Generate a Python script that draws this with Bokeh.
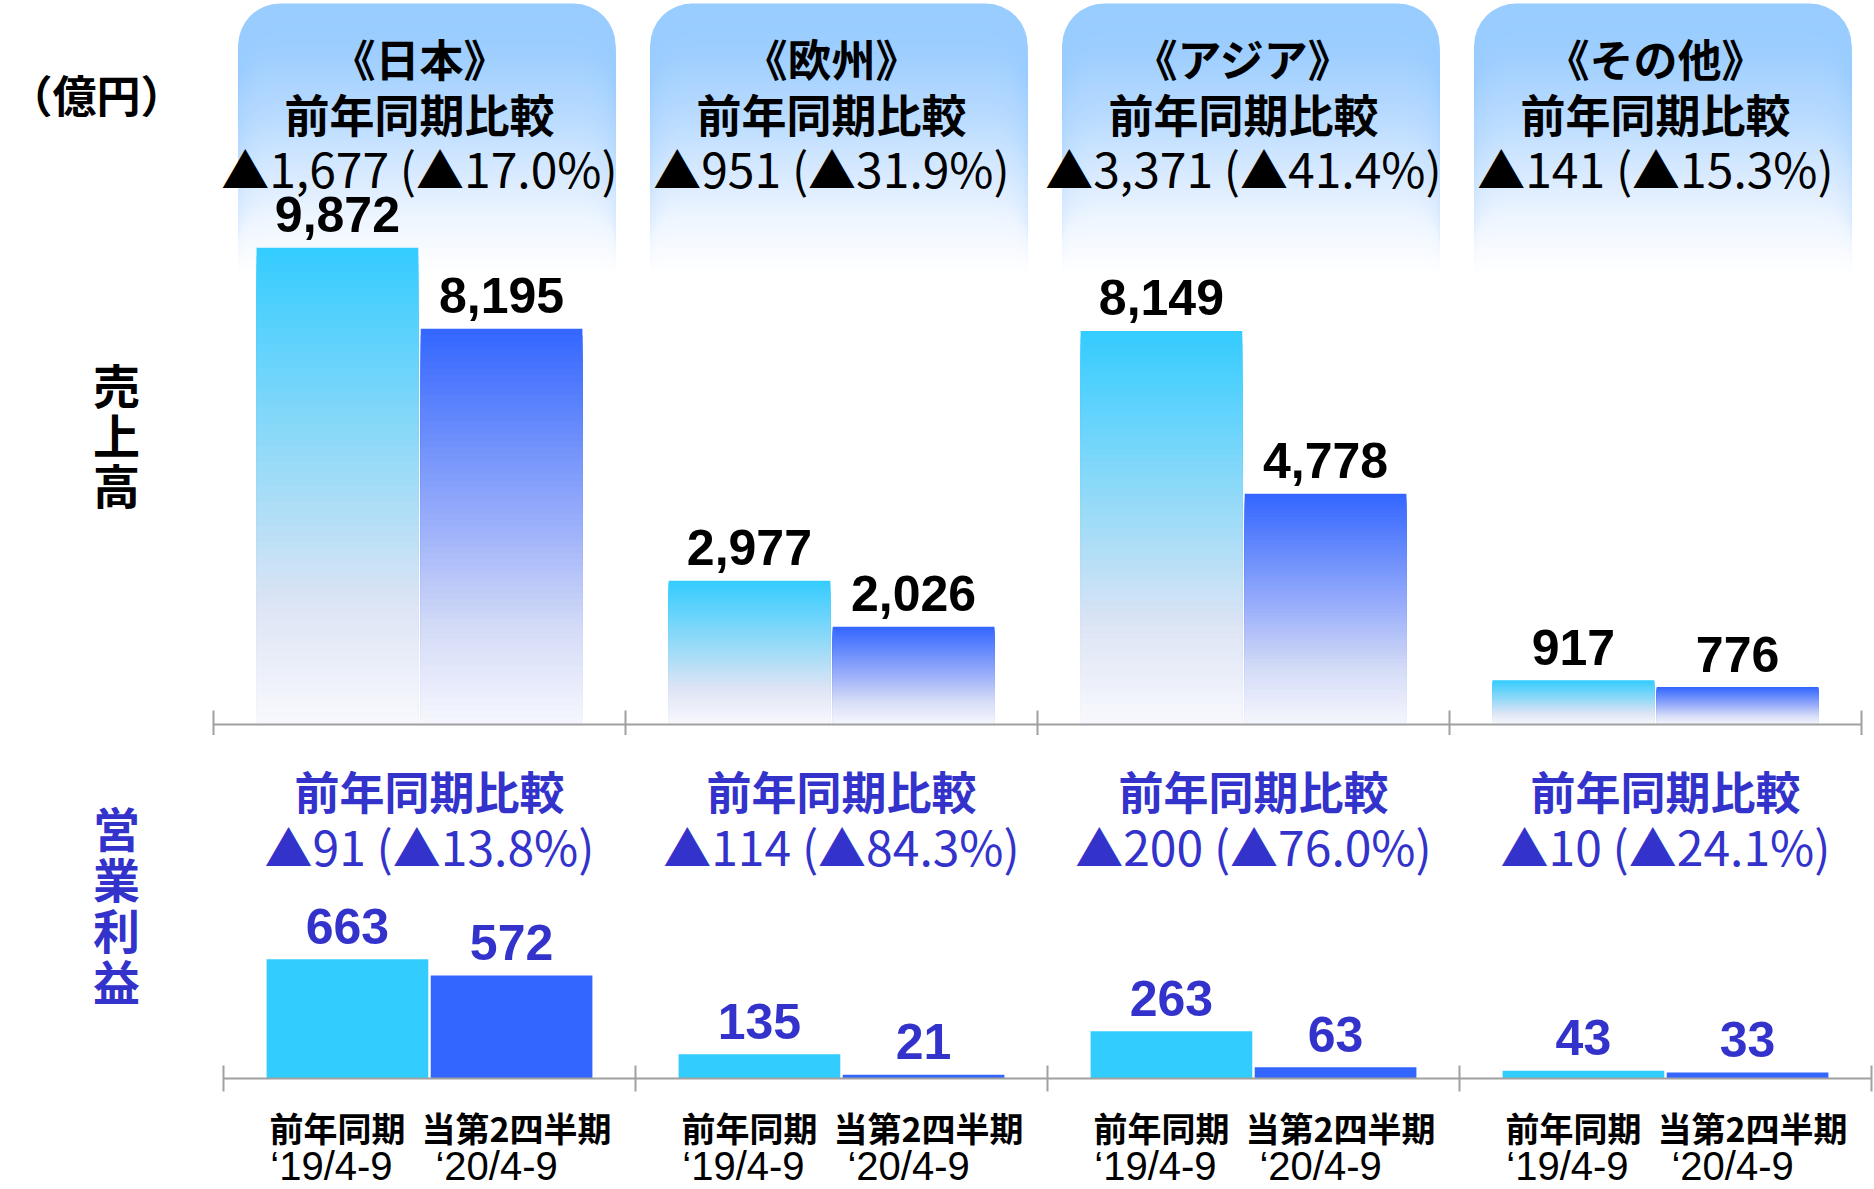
import numpy as np
from bokeh.plotting import figure
from bokeh.models import FactorRange, Range1d, ColumnDataSource
from bokeh.layouts import row, column
from bokeh.transform import dodge
from bokeh.core.properties import value
from bokeh.embed import file_html
from bokeh.resources import INLINE

# ---------------- data ----------------
regions = ["日本", "欧州", "アジア", "その他"]
region_titles = ["《日本》", "《欧州》", "《アジア》", "《その他》"]
periods = ["前年同期", "当第2四半期"]
period_dates = ["‘19/4-9", "‘20/4-9"]
sales_prev = [9872, 2977, 8149, 917]
sales_curr = [8195, 2026, 4778, 776]
op_prev = [663, 135, 263, 43]
op_curr = [572, 21, 63, 33]
sales_change = ["▲1,677 (▲17.0%)", "▲951 (▲31.9%)", "▲3,371 (▲41.4%)", "▲141 (▲15.3%)"]
op_change = ["▲91 (▲13.8%)", "▲114 (▲84.3%)", "▲200 (▲76.0%)", "▲10 (▲24.1%)"]
compare_label = "前年同期比較"
unit_label = "（億円）"
sales_label = "売上高"
op_label = "営業利益"

# ---------------- style ----------------
CJK = value("Noto Sans CJK JP")
NUM = value("Liberation Sans")
CYAN = "#33CCFF"
BLUE = "#3366FF"
TXT_BLUE = "#3333CC"
AXIS = "#A0A0A0"
cyan_stops = [(0.0, "#F8F9FD"), (0.25, "#DDE4F5"), (0.5, "#A3DCF7"), (1.0, CYAN)]
blue_stops = [(0.0, "#F6F7FD"), (0.25, "#D2DAF6"), (0.5, "#9CB0FA"), (1.0, BLUE)]
box_stops = [(0.0, "#FFFFFF"), (0.2, "#EFF6FF"), (0.4, "#D4E8FF"), (0.6, "#B7DAFF"),
             (0.85, "#9BCDFF"), (1.0, "#99CCFF")]

W, H = 1874, 1189
LEFT_W = 200
TOP_H, BOT_H = 735, 454
GP = 0.51                       # gap between region groups (in bar units)
UNIT = 1648 / (8 + 4 * GP)      # px per bar unit
PAD = GP / 2 + 13 / UNIT
BOT_SHIFT = 10 / UNIT           # operating-profit panel sits slightly right
BAR_W = 0.985


def hex2rgb(h):
    return np.array([int(h[i:i + 2], 16) for i in (1, 3, 5)], float)


def grad(stops, f):
    f = min(max(f, 0.0), 1.0)
    for (p0, c0), (p1, c1) in zip(stops[:-1], stops[1:]):
        if f <= p1:
            t = (f - p0) / (p1 - p0) if p1 > p0 else 0.0
            c = hex2rgb(c0) * (1 - t) + hex2rgb(c1) * t
            return "#%02x%02x%02x" % tuple(int(round(v)) for v in c)
    return stops[-1][1]


def factor_range():
    return FactorRange(factors=[(r, p) for r in regions for p in periods],
                       group_padding=GP, factor_padding=0.0,
                       range_padding=PAD, range_padding_units="absolute")


group_centers = [i * (2 + GP) + 1 for i in range(len(regions))]
bounds = [i * (2 + GP) - GP / 2 for i in range(len(regions) + 1)]


def base_fig(width, height, x_range, y_range):
    p = figure(width=width, height=height, x_range=x_range, y_range=y_range,
               output_backend="svg", toolbar_location=None,
               x_axis_location=None, y_axis_location=None,
               min_border=0, min_border_left=0, min_border_right=0,
               min_border_top=0, min_border_bottom=0)
    p.outline_line_color = None
    p.grid.visible = False
    p.background_fill_color = "white"
    p.border_fill_color = "white"
    return p


def draw_axis(p, size, shift=0.0):
    xs = [b + shift for b in bounds]
    p.segment(x0=[xs[0]], x1=[xs[-1]], y0=[0], y1=[0], line_color=AXIS, line_width=2)
    p.scatter(x=xs, y=[0] * len(xs), marker="dash", angle=np.pi / 2,
              size=size, line_color=AXIS, line_width=2)


# ---------------- top: sales ----------------
S1 = 0.0483     # px per 億円
AX1 = 724       # axis px from figure top


def y1(px):
    return (AX1 - px) / S1


p1 = base_fig(W - LEFT_W, TOP_H, factor_range(), Range1d(y1(TOP_H), y1(0)))

# header boxes (vertical gradient via stacked rounded quads)
NBOX = 70
box_top, box_bot = y1(3), y1(275)
BOX_HALF, BOX_SHIFT = 1.15, 0.045
bl, br, bt, bc = [], [], [], []
for k in range(NBOX):
    f = 1 - k / NBOX
    for gc in group_centers:
        bl.append(gc - BOX_HALF + BOX_SHIFT)
        br.append(gc + BOX_HALF + BOX_SHIFT)
        bt.append(box_bot + (box_top - box_bot) * f)
        bc.append(grad(box_stops, f - 0.5 / NBOX))
p1.quad(left=bl, right=br, top=bt, bottom=box_bot, fill_color=bc,
        line_color=None, border_radius=42)

# gradient bars (stacked, each shorter one lighter)
NB = 60
vx, vt, vc = [], [], []
for vals, period, stops in ((sales_prev, periods[0], cyan_stops),
                            (sales_curr, periods[1], blue_stops)):
    for r, v in zip(regions, vals):
        for k in range(NB):
            f = 1 - k / NB
            vx.append((r, period))
            vt.append(v * f)
            vc.append(grad(stops, f - 0.5 / NB))
p1.vbar(x=vx, top=vt, bottom=0, width=BAR_W, fill_color=vc, line_color=None)

# value labels
for vals, period in ((sales_prev, periods[0]), (sales_curr, periods[1])):
    p1.text(x=[(r, period) for r in regions], y=[v + 33 / S1 for v in vals],
            text=[f"{v:,}" for v in vals], text_align="center",
            text_baseline="middle", text_font=NUM, text_font_style="bold",
            text_font_size="50px", text_color="black")

# header texts
p1.text(x=group_centers, y=[y1(57)] * 4, text=region_titles, text_align="center",
        text_baseline="middle", text_font=CJK, text_font_style="bold",
        text_font_size="44px", text_color="black")
p1.text(x=group_centers, y=[y1(113)] * 4, text=[compare_label] * 4, text_align="center",
        text_baseline="middle", text_font=CJK, text_font_style="bold",
        text_font_size="45px", text_color="black")
p1.text(x=group_centers, y=[y1(166)] * 4, text=sales_change, text_align="center",
        text_baseline="middle", text_font=CJK, text_font_size="48px", text_color="black")

draw_axis(p1, 28)

# ---------------- bottom: operating profit ----------------
S2 = 0.18
AX2 = 343


def y2(px):
    return (AX2 - px) / S2


p2 = base_fig(W - LEFT_W, BOT_H, factor_range(), Range1d(y2(BOT_H), y2(0)))

for vals, period, color in ((op_prev, periods[0], CYAN), (op_curr, periods[1], BLUE)):
    src = ColumnDataSource(dict(
        x=[(r, period) for r in regions],
        top=vals,
        ly=[v + 33 / S2 for v in vals],
        lab=[f"{v:,}" for v in vals],
    ))
    xd = dodge("x", BOT_SHIFT, range=p2.x_range)
    p2.vbar(x=xd, top="top", bottom=0, width=BAR_W, source=src,
            fill_color=color, line_color=None)
    p2.text(x=xd, y="ly", text="lab", source=src, text_align="center",
            text_baseline="middle", text_font=NUM, text_font_style="bold",
            text_font_size="50px", text_color=TXT_BLUE)

gcb = [g + BOT_SHIFT for g in group_centers]
p2.text(x=gcb, y=[y2(55)] * 4, text=[compare_label] * 4, text_align="center",
        text_baseline="middle", text_font=CJK, text_font_style="bold",
        text_font_size="45px", text_color=TXT_BLUE)
p2.text(x=gcb, y=[y2(109)] * 4, text=op_change, text_align="center",
        text_baseline="middle", text_font=CJK, text_font_size="48px", text_color=TXT_BLUE)

draw_axis(p2, 26, BOT_SHIFT)

# category labels under the axis
for period, date, dx1, dx2 in ((periods[0], period_dates[0], -10, -16),
                               (periods[1], period_dates[1], 5, -15)):
    src = ColumnDataSource(dict(
        x=[(r, period) for r in regions],
        y1=[y2(392)] * 4, y2=[y2(430)] * 4,
        t1=[period] * 4, t2=[date] * 4,
    ))
    xd = dodge("x", BOT_SHIFT, range=p2.x_range)
    p2.text(x=xd, y="y1", text="t1", source=src, x_offset=dx1, text_align="center",
            text_baseline="middle", text_font=CJK, text_font_style="bold",
            text_font_size="34px", text_color="black")
    p2.text(x=xd, y="y2", text="t2", source=src, x_offset=dx2, text_align="center",
            text_baseline="middle", text_font=NUM, text_font_size="40px", text_color="black")

# ---------------- left labels ----------------
p0 = base_fig(LEFT_W, H, Range1d(0, LEFT_W), Range1d(H, 0))
p0.text(x=[96], y=[93], text=["\u00a0" + unit_label + "\u00a0"], text_align="center",
        text_baseline="middle", text_font=CJK, text_font_style="bold",
        text_font_size="44px", text_color="black")
chars = list(sales_label)
p0.text(x=[116] * len(chars), y=[433 + (i - (len(chars) - 1) / 2) * 50 for i in range(len(chars))],
        text=chars, text_align="center", text_baseline="middle", text_font=CJK,
        text_font_style="bold", text_font_size="47px", text_color="black")
chars = list(op_label)
p0.text(x=[116] * len(chars), y=[902 + (i - (len(chars) - 1) / 2) * 51 for i in range(len(chars))],
        text=chars, text_align="center", text_baseline="middle", text_font=CJK,
        text_font_style="bold", text_font_size="47px", text_color=TXT_BLUE)

layout = row(p0, column(p1, p2, spacing=0), spacing=0)
open("out.html", "w").write(file_html(layout, INLINE))
